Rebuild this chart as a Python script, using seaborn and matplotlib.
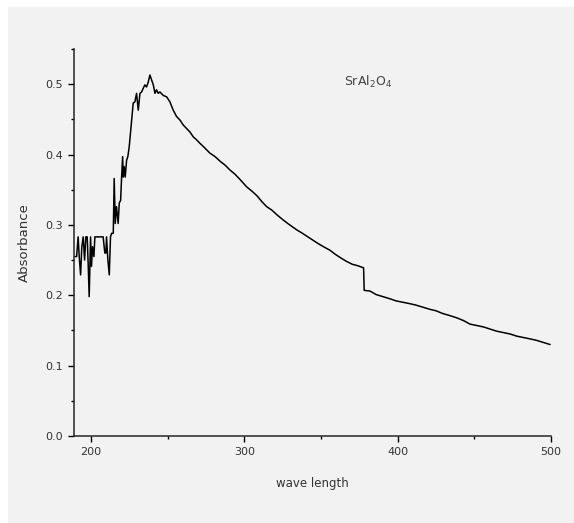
import matplotlib
matplotlib.use("Agg")
import matplotlib.pyplot as plt
from matplotlib.patches import Rectangle
from matplotlib.ticker import MultipleLocator
import numpy as np
import pandas as pd
import seaborn as sns

# absorbance spectrum
wavelength = [189.6, 190.7, 191.7, 192.4, 193.3, 194.1, 195.0, 195.9, 196.7, 197.6,
              198.3, 198.9, 199.8, 200.4, 201.1, 202.0, 202.6, 203.7, 205.9, 208.0,
              209.1, 209.8, 210.2, 211.1, 212.0, 212.8, 213.5, 214.6, 215.2, 215.9,
              216.7, 217.8, 218.5, 219.4, 220.0, 220.7, 221.1, 221.7, 222.4, 223.3,
              224.1, 225.0, 225.9, 226.7, 227.6, 228.7, 229.8, 230.9, 232.0, 233.1,
              234.1, 235.2, 236.3, 237.4, 238.5, 239.6, 240.7, 241.8, 242.8, 243.9,
              245.0, 247.2, 249.4, 251.5, 253.7, 255.9, 258.1, 260.2, 262.4, 264.6,
              266.8, 268.9, 271.1, 274.0, 277.6, 281.0, 284.5, 287.5, 290.7, 294.0,
              297.5, 301.6, 305.0, 308.5, 311.5, 314.6, 318.0, 321.5, 325.4, 329.0,
              334.2, 338.0, 341.5, 345.0, 348.5, 352.5, 355.9, 359.5, 363.0, 366.8,
              370.5, 374.0, 377.8, 378.2, 382.0, 386.0, 390.5, 395.0, 399.0, 403.5,
              408.1, 412.0, 416.5, 421.1, 425.0, 429.5, 434.2, 438.5, 443.0, 447.2,
              451.5, 456.0, 460.3, 464.5, 469.0, 473.3, 477.5, 482.0, 486.4, 490.5,
              495.0, 499.4]
absorbance = [0.255, 0.255, 0.283, 0.255, 0.229, 0.269, 0.283, 0.250, 0.283, 0.283,
              0.241, 0.198, 0.283, 0.241, 0.269, 0.255, 0.283, 0.283, 0.283, 0.283,
              0.260, 0.260, 0.283, 0.250, 0.229, 0.283, 0.288, 0.288, 0.366, 0.302,
              0.326, 0.302, 0.331, 0.335, 0.366, 0.397, 0.368, 0.383, 0.368, 0.392,
              0.397, 0.411, 0.432, 0.449, 0.473, 0.475, 0.487, 0.463, 0.487, 0.489,
              0.494, 0.499, 0.496, 0.503, 0.513, 0.506, 0.499, 0.487, 0.492, 0.487,
              0.489, 0.484, 0.482, 0.475, 0.463, 0.454, 0.449, 0.442, 0.437, 0.432,
              0.425, 0.421, 0.416, 0.410, 0.402, 0.397, 0.390, 0.385, 0.378, 0.372,
              0.364, 0.354, 0.348, 0.341, 0.333, 0.326, 0.321, 0.314, 0.307, 0.301,
              0.293, 0.288, 0.283, 0.278, 0.273, 0.268, 0.264, 0.258, 0.253, 0.248,
              0.244, 0.242, 0.239, 0.207, 0.206, 0.201, 0.198, 0.195, 0.192, 0.190,
              0.188, 0.186, 0.183, 0.180, 0.178, 0.174, 0.171, 0.168, 0.164, 0.159,
              0.157, 0.155, 0.152, 0.149, 0.147, 0.145, 0.142, 0.140, 0.138, 0.136,
              0.133, 0.130]

df = pd.DataFrame({"wavelength": wavelength, "absorbance": absorbance})

sns.set_style("ticks")
plt.rcParams["font.family"] = ["DejaVu Sans"]
panel = "#f2f2f2"
ink = "#333333"

fig = plt.figure(figsize=(5.74, 5.23), dpi=100, facecolor="white")
fig.patches.append(Rectangle((8 / 574, 0), 1, 516 / 523, transform=fig.transFigure,
                             facecolor=panel, edgecolor="none", zorder=-1))
ax = fig.add_axes([74 / 574, 1 - 436 / 523, 477 / 574, 387 / 523])
ax.set_facecolor(panel)

sns.lineplot(data=df, x="wavelength", y="absorbance", ax=ax, color="black",
             linewidth=1.1, estimator=None, sort=False)

ax.set_xlim(189, 500)
ax.set_ylim(0, 0.55)
ax.xaxis.set_major_locator(MultipleLocator(100))
ax.xaxis.set_minor_locator(MultipleLocator(50))
ax.yaxis.set_major_locator(MultipleLocator(0.1))
ax.yaxis.set_minor_locator(MultipleLocator(0.05))
ax.yaxis.set_major_formatter(matplotlib.ticker.FormatStrFormatter("%.1f"))
ax.tick_params(which="major", length=4, width=1, colors="black", labelcolor=ink,
               labelsize=8, pad=4)
ax.tick_params(which="minor", length=2.5, width=1, colors="black")
for s in ["top", "right"]:
    ax.spines[s].set_visible(False)
for s in ["left", "bottom"]:
    ax.spines[s].set_linewidth(1.1)

ax.set_xlabel("wave length", fontsize=8.5, color=ink, labelpad=14)
ax.set_ylabel("Absorbance", fontsize=9.5, color=ink, labelpad=10)
ax.text(365, 0.497, "SrAl$_2$O$_4$", fontsize=9, color="#444444")

fig.savefig("out.png", dpi=100, facecolor=fig.get_facecolor())
